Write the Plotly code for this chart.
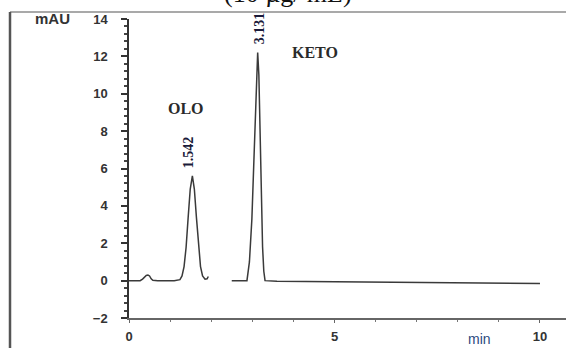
import plotly.graph_objects as go

# Chromatogram trace: retention time (min) vs absorbance (mAU); None marks a gap in the recorded line
time_min = [0.00, 0.10, 0.20, 0.27, 0.33, 0.38, 0.42, 0.46, 0.50, 0.54, 0.58, 0.70, 0.90, 1.10,
            1.24, 1.29, 1.34, 1.39, 1.44, 1.49, 1.542, 1.59, 1.64, 1.69, 1.74, 1.79, 1.85, 1.90, 1.93,
            2.20,
            2.50, 2.70, 2.87, 2.93, 2.99, 3.04, 3.08, 3.11, 3.131, 3.16, 3.19, 3.22, 3.25, 3.28, 3.31,
            3.60, 4.50, 6.00, 7.50, 9.00, 10.00]
absorbance_mau = [0.00, 0.00, -0.02, 0.00, 0.08, 0.20, 0.28, 0.30, 0.25, 0.10, 0.02, 0.00, 0.00, 0.00,
                  0.05, 0.25, 0.75, 1.80, 3.40, 4.90, 5.60, 4.90, 3.40, 1.80, 0.75, 0.25, 0.08, 0.10, 0.22,
                  None,
                  0.00, -0.02, 0.00, 1.00, 3.30, 6.50, 9.50, 11.50, 12.20, 11.00, 8.00, 4.50, 1.80, 0.50, 0.00,
                  -0.04, -0.06, -0.09, -0.12, -0.14, -0.16]

# Peak labels
peak_names = ["OLO", "KETO"]
peak_times = [1.542, 3.131]
peak_heights = [5.6, 12.2]

title_text = "(10 µg/ mL)"
y_ticks = [-2, 0, 2, 4, 6, 8, 10, 12, 14]
x_ticks = [0, 5, 10]

W, H = 566, 348
ML, MR, MT, MB = 129, 0, 19, 30
PW, PH = W - ML - MR, H - MT - MB

def px_x(p):
    return (p - ML) / PW

def px_y(p):
    return (H - MB - p) / PH

fig = go.Figure()
fig.add_trace(go.Scatter(x=time_min, y=absorbance_mau, mode="lines",
                         line=dict(color="#3a3a3a", width=1.5), connectgaps=False,
                         hoverinfo="skip", showlegend=False))

tick_font = dict(family="Liberation Sans", size=13, color="#333333", weight="bold")

fig.update_layout(
    width=W, height=H,
    margin=dict(l=ML, r=MR, t=MT, b=MB, pad=0),
    paper_bgcolor="white", plot_bgcolor="white",
    showlegend=False,
    xaxis=dict(range=[0, 10.633], showgrid=False, zeroline=False,
               showline=True, linecolor="#666666", linewidth=1.5,
               tickvals=x_ticks, ticks="outside", ticklen=3, tickwidth=1.2, tickcolor="#666666",
               minor=dict(dtick=1, ticks="outside", ticklen=2, tickcolor="#777777"),
               tickfont=tick_font, ticklabelstandoff=3),
    yaxis=dict(range=[-2, 14], showgrid=False, zeroline=False,
               showline=True, linecolor="#333333", linewidth=1.5,
               tickvals=y_ticks, ticks="outside", ticklen=6, tickwidth=1.5, tickcolor="#333333",
               minor=dict(dtick=0.4, ticks="outside", ticklen=3, tickcolor="#444444"),
               tickfont=tick_font, ticklabelstandoff=11),
)

# Outer frame (left and top edges)
fig.add_shape(type="line", xref="paper", yref="paper",
              x0=px_x(10), x1=px_x(10), y0=px_y(12), y1=px_y(H + 5),
              line=dict(color="#555555", width=2.5))
fig.add_shape(type="line", xref="paper", yref="paper",
              x0=px_x(10), x1=px_x(W + 5), y0=px_y(12), y1=px_y(12),
              line=dict(color="#555555", width=1.2))

serif = "Liberation Serif"

# Retention-time labels above each peak
for t, h, dx in zip(peak_times, peak_heights, [-3, 2]):
    fig.add_annotation(x=t, y=h, xref="x", yref="y", text=f"{t:.3f}", showarrow=False,
                       textangle=-90, yanchor="bottom", yshift=6, xshift=dx,
                       font=dict(family=serif, size=14, color="#1b1b3a", weight="bold"))

# Compound names
fig.add_annotation(x=1.39, y=9.2, text=peak_names[0], showarrow=False,
                   font=dict(family=serif, size=16, color="#2a2a2a", weight="bold"))
fig.add_annotation(x=4.53, y=12.2, text=peak_names[1], showarrow=False,
                   font=dict(family=serif, size=16, color="#2a2a2a", weight="bold"))

# Axis unit labels
fig.add_annotation(x=px_x(52), y=px_y(18), xref="paper", yref="paper", text="mAU",
                   showarrow=False, xanchor="center", yanchor="middle",
                   font=dict(family="Liberation Sans", size=15, color="#333333", weight="bold"))
fig.add_annotation(x=8.54, y=px_y(338.5), xref="x", yref="paper", text="min",
                   showarrow=False, xanchor="center", yanchor="middle",
                   font=dict(family="Liberation Sans", size=14, color="#2b4a80"))

# Title, partly above the visible page
fig.add_annotation(x=px_x(288), y=px_y(10), xref="paper", yref="paper", text=title_text,
                   showarrow=False, xanchor="center", yanchor="bottom",
                   font=dict(family=serif, size=26, color="#111111"))

fig.write_html("out.html")
